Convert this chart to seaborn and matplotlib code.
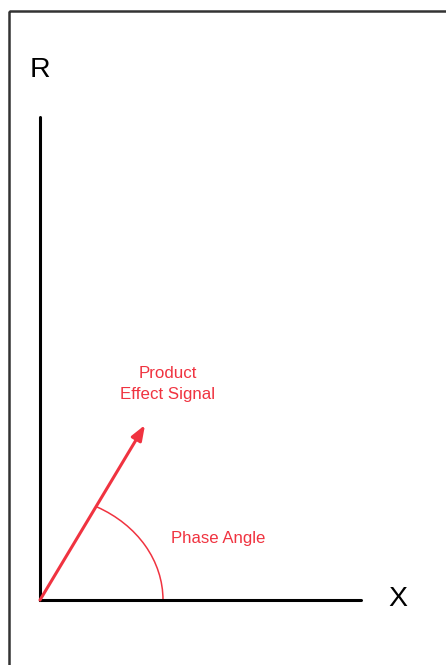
import numpy as np
import pandas as pd
import matplotlib
matplotlib.use("Agg")
import matplotlib.pyplot as plt
import seaborn as sns
from matplotlib.patches import Arc, Rectangle

# diagram geometry in pixel units of the picture (origin top-left)
axes_x = [40, 40, 361]          # R axis top -> origin -> X axis end
axes_y = [117, 600, 600]
vector_x = [40, 145]            # product effect signal vector
vector_y = [600, 425]
axis_names = ["R", "X"]
vector_label = "Product\nEffect Signal"
angle_label = "Phase Angle"

red = "#f03340"

sns.set_style("white")
plt.rcParams['font.family'] = ['Liberation Sans', 'DejaVu Sans']

fig = plt.figure(figsize=(4.46, 6.65), dpi=100)
ax = fig.add_axes([0, 0, 1, 1])
ax.set_xlim(0, 446)
ax.set_ylim(665, 0)
ax.axis('off')

# outer frame (runs off the right and bottom edge)
ax.add_patch(Rectangle((9, 11), 520, 720, fill=False, edgecolor="#333333", lw=1.8))

# R and X axes
axes_df = pd.DataFrame({'x': axes_x, 'y': axes_y})
sns.lineplot(data=axes_df, x='x', y='y', sort=False, estimator=None,
             color='black', lw=2.2, ax=ax)
ax.lines[-1].set_solid_joinstyle('miter')
ax.set_xlim(0, 446)
ax.set_ylim(665, 0)
ax.set_xlabel('')
ax.set_ylabel('')

ax.text(axes_x[0], 70, axis_names[0], fontsize=20.5, color='black', ha='center', va='center')
ax.text(398, axes_y[-1] - 1, axis_names[1], fontsize=20.5, color='black', ha='center', va='center')

# signal vector
ax.annotate('', xy=(vector_x[1], vector_y[1]), xytext=(vector_x[0], vector_y[0]),
            arrowprops=dict(arrowstyle='-|>,head_length=0.45,head_width=0.17',
                            mutation_scale=20, color=red, lw=2.2,
                            shrinkA=0, shrinkB=0))

# phase angle arc
ax.add_patch(Arc((vector_x[0], vector_y[0]), 246, 210, theta1=-58.5, theta2=0,
                 color=red, lw=1.1))

ax.text(168, 384, vector_label, fontsize=12.2, color=red, ha='center', va='center',
        linespacing=1.5)
ax.text(218, 538, angle_label, fontsize=12.1, color=red, ha='center', va='center')

fig.savefig('out.png', dpi=100)
